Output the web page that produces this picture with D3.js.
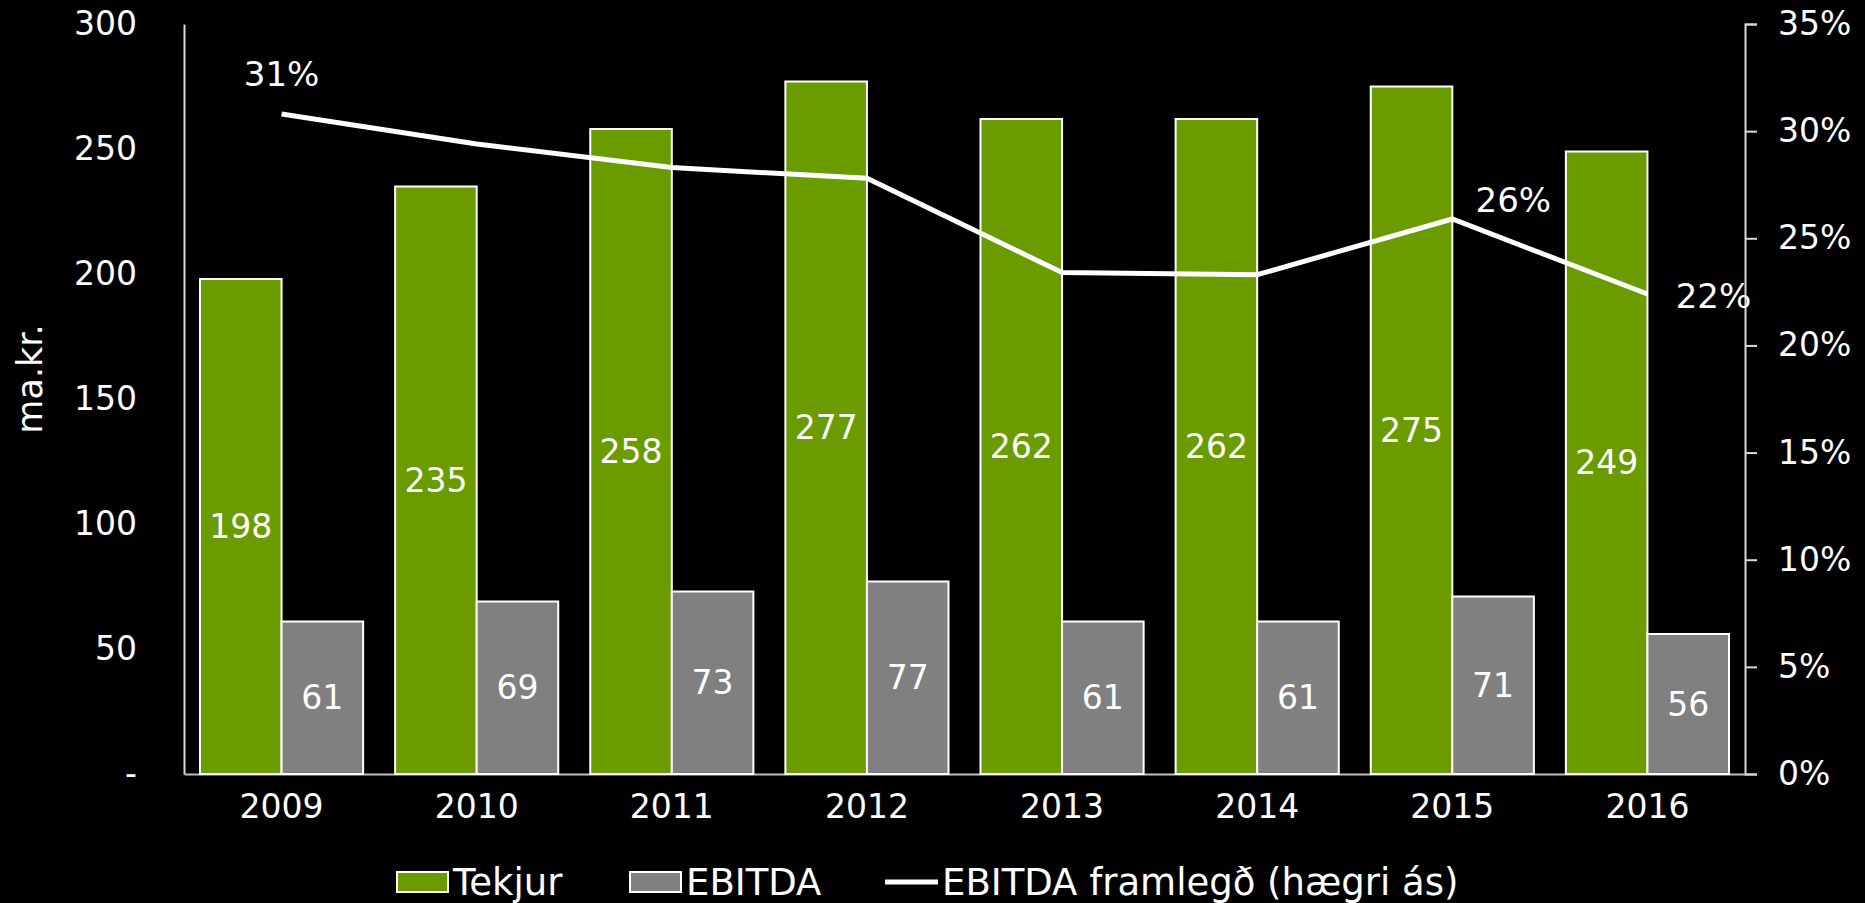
<!DOCTYPE html>
<html>
<head>
<meta charset="utf-8">
<script src="https://cdn.jsdelivr.net/npm/d3@7"></script>
<style>
  body { margin: 0; background: #000; }
  svg text { font-family: "DejaVu Sans", Verdana, sans-serif; fill: #fff; }
</style>
</head>
<body>
<div id="chart"></div>
<script>
// data
const years = ["2009", "2010", "2011", "2012", "2013", "2014", "2015", "2016"];
const tekjur = [198, 235, 258, 277, 262, 262, 275, 249];
const ebitda = [61, 69, 73, 77, 61, 61, 71, 56];
const framlegd = [30.8, 29.4, 28.3, 27.8, 23.4, 23.3, 25.9, 22.4];
const leftTicks = [0, 50, 100, 150, 200, 250, 300];
const rightTicks = [0, 5, 10, 15, 20, 25, 30, 35];
const seriesNames = ["Tekjur", "EBITDA", "EBITDA framlegð (hægri ás)"];

const width = 1865;
const height = 903;
const margin = { top: 24, right: 120, bottom: 129, left: 184 };
const green = "#6a9c00";
const grey = "#808080";
const fontSize = "33px";

const svg = d3.select("#chart")
  .append("svg")
  .attr("width", width)
  .attr("height", height);

const x0 = d3.scaleBand()
  .domain(years)
  .range([margin.left, width - margin.right])
  .paddingInner(0.164)
  .paddingOuter(0.082);

const x1 = d3.scaleBand()
  .domain(["tekjur", "ebitda"])
  .range([0, x0.bandwidth()]);

const yLeft = d3.scaleLinear()
  .domain([0, 300])
  .range([height - margin.bottom, margin.top]);

const yRight = d3.scaleLinear()
  .domain([0, 35])
  .range([height - margin.bottom, margin.top]);

// axes
const leftAxis = svg.append("g")
  .attr("transform", `translate(${margin.left},0)`)
  .call(d3.axisLeft(yLeft).tickValues(leftTicks).tickSize(0).tickPadding(47)
    .tickFormat(d => d === 0 ? "-" : d));
leftAxis.select(".domain").attr("stroke", "#d9d9d9").attr("stroke-width", 2);
leftAxis.selectAll("text").style("font-size", fontSize);

const rightAxis = svg.append("g")
  .attr("transform", `translate(${width - margin.right},0)`)
  .call(d3.axisRight(yRight).tickValues(rightTicks).tickSize(12).tickSizeOuter(12).tickPadding(21)
    .tickFormat(d => d + "%"));
rightAxis.select(".domain").attr("stroke", "#d9d9d9").attr("stroke-width", 2);
rightAxis.selectAll(".tick line").attr("stroke", "#d9d9d9").attr("stroke-width", 2);
rightAxis.selectAll("text").style("font-size", fontSize);

const bottomAxis = svg.append("g")
  .attr("transform", `translate(0,${height - margin.bottom})`)
  .call(d3.axisBottom(x0).tickSize(0).tickPadding(21));
bottomAxis.select(".domain").attr("stroke", "#bfbfbf").attr("stroke-width", 2);
bottomAxis.selectAll("text").style("font-size", fontSize);

// y label
svg.append("text")
  .attr("transform", "rotate(-90)")
  .attr("x", -379)
  .attr("y", 30)
  .attr("text-anchor", "middle")
  .attr("dominant-baseline", "central")
  .style("font-size", "35px")
  .text("ma.kr.");

// bars
const groups = svg.selectAll(".year")
  .data(years)
  .enter()
  .append("g")
  .attr("class", "year")
  .attr("transform", d => `translate(${x0(d)},0)`);

groups.append("rect")
  .attr("x", x1("tekjur"))
  .attr("width", x1.bandwidth())
  .attr("y", (d, i) => yLeft(tekjur[i]))
  .attr("height", (d, i) => yLeft(0) - yLeft(tekjur[i]))
  .attr("fill", green)
  .attr("stroke", "#fff")
  .attr("stroke-width", 2);

groups.append("rect")
  .attr("x", x1("ebitda"))
  .attr("width", x1.bandwidth())
  .attr("y", (d, i) => yLeft(ebitda[i]))
  .attr("height", (d, i) => yLeft(0) - yLeft(ebitda[i]))
  .attr("fill", grey)
  .attr("stroke", "#fff")
  .attr("stroke-width", 2);

groups.append("text")
  .attr("x", x1("tekjur") + x1.bandwidth() / 2)
  .attr("y", (d, i) => (yLeft(tekjur[i]) + yLeft(0)) / 2)
  .attr("text-anchor", "middle")
  .attr("dominant-baseline", "central")
  .style("font-size", fontSize)
  .text((d, i) => tekjur[i]);

groups.append("text")
  .attr("x", x1("ebitda") + x1.bandwidth() / 2)
  .attr("y", (d, i) => (yLeft(ebitda[i]) + yLeft(0)) / 2)
  .attr("text-anchor", "middle")
  .attr("dominant-baseline", "central")
  .style("font-size", fontSize)
  .text((d, i) => ebitda[i]);

// margin line
const line = d3.line()
  .x((d, i) => x0(years[i]) + x0.bandwidth() / 2)
  .y(d => yRight(d));

svg.append("path")
  .datum(framlegd)
  .attr("fill", "none")
  .attr("stroke", "#fff")
  .attr("stroke-width", 5)
  .attr("d", line);

// only some points are labelled in the original
const pctLabels = [
  { i: 0, dx: 0, dy: -40 },
  { i: 6, dx: 61, dy: -19 },
  { i: 7, dx: 66, dy: 2 }
];
svg.selectAll(".pct")
  .data(pctLabels)
  .enter()
  .append("text")
  .attr("class", "pct")
  .attr("x", d => x0(years[d.i]) + x0.bandwidth() / 2 + d.dx)
  .attr("y", d => yRight(framlegd[d.i]) + d.dy)
  .attr("text-anchor", "middle")
  .attr("dominant-baseline", "central")
  .style("font-size", "34px")
  .text(d => Math.round(framlegd[d.i]) + "%");

// legend
const legend = svg.append("g").attr("transform", "translate(0,882)");
legend.append("rect")
  .attr("x", 397).attr("y", -10).attr("width", 51).attr("height", 20)
  .attr("fill", green).attr("stroke", "#fff").attr("stroke-width", 2);
legend.append("text")
  .attr("x", 453).attr("y", 0).attr("dominant-baseline", "central")
  .style("font-size", "37px").text(seriesNames[0]);
legend.append("rect")
  .attr("x", 630).attr("y", -10).attr("width", 51).attr("height", 20)
  .attr("fill", grey).attr("stroke", "#fff").attr("stroke-width", 2);
legend.append("text")
  .attr("x", 686).attr("y", 0).attr("dominant-baseline", "central")
  .style("font-size", "37px").text(seriesNames[1]);
legend.append("line")
  .attr("x1", 885).attr("x2", 938).attr("y1", 0).attr("y2", 0)
  .attr("stroke", "#fff").attr("stroke-width", 5);
legend.append("text")
  .attr("x", 942).attr("y", 0).attr("dominant-baseline", "central")
  .style("font-size", "37px").text(seriesNames[2]);
</script>
</body>
</html>
